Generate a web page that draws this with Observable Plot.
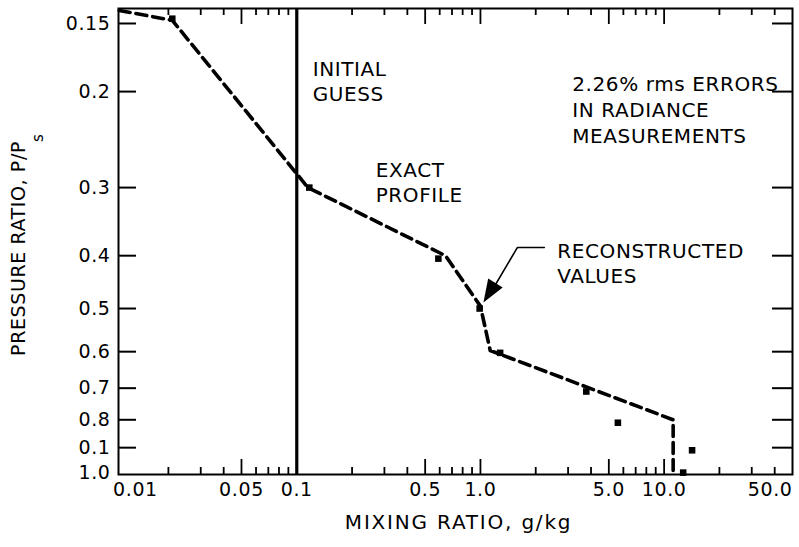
<!DOCTYPE html>
<html>
<head>
<meta charset="utf-8">
<script src="https://cdn.jsdelivr.net/npm/d3@7"></script>
<script src="https://cdn.jsdelivr.net/npm/@observablehq/plot@0.6"></script>
<style>
  html, body { margin: 0; padding: 0; background: #fff; }
  #chart svg text { letter-spacing: 0.6px; }
</style>
</head>
<body>
<div id="chart"></div>
<script>
// Exact water-vapour profile: mixing ratio (g/kg) against pressure ratio P/Ps
const exactMixing   = [0.0108, 0.021, 0.115, 0.645, 1.0,   1.13,  11.2, 11.2];
const exactPressure = [0.142,  0.148, 0.30,  0.40,  0.495, 0.597, 0.80, 1.008];

// Values recovered from radiances with 2.26% rms errors
const reconMixing   = [0.021, 0.117, 0.59,  0.99, 1.28,  3.77, 5.6,  14.2, 12.7];
const reconPressure = [0.147, 0.30,  0.405, 0.50, 0.603, 0.71, 0.81, 0.91, 1.0];

// Constant first guess used by the retrieval
const initialGuess = [0.1];

// Axis ticks and their printed labels
const xTickValues = [0.01, 0.05, 0.1, 0.5, 1, 5, 10, 50];
const xTickLabels = ["0.01", "0.05", "0.1", "0.5", "1.0", "5.0", "10.0", "50.0"];
const xMajorTicks = [0.05, 0.5, 1, 5, 10];
const xMinorTicks = [0.02, 0.03, 0.04, 0.06, 0.07, 0.08, 0.09,
                     0.2, 0.3, 0.4, 0.6, 0.7, 0.8, 0.9,
                     2, 3, 4, 6, 7, 8, 9, 20, 30, 40];
const yTickValues = [0.15, 0.2, 0.3, 0.4, 0.5, 0.6, 0.7, 0.8, 0.9, 1.0];
const yTickLabels = ["0.15", "0.2", "0.3", "0.4", "0.5", "0.6", "0.7", "0.8", "0.1", "1.0"];

const exact = exactMixing.map((x, i) => ({x, y: exactPressure[i]}));
const recon = reconMixing.map((x, i) => ({x, y: reconPressure[i]}));
const yTicks = yTickValues.map((v, i) => ({v, label: yTickLabels[i]}));
const xTicks = xTickValues.map((v, i) => ({v, label: xTickLabels[i]}));

const W = 799, H = 547;
const mL = 118, mR = 7, mT = 8, mB = 73;
const frameW = W - mL - mR, frameH = H - mT - mB;
const font = "DejaVu Sans";
const xTitle = "MIXING RATIO, g/kg";

// Filled, slender arrowhead whose tip sits at the symbol origin (points up before rotation)
const arrowHead = {
  draw(context) {
    context.moveTo(0, 0);
    context.lineTo(-8.5, 23);
    context.lineTo(8.5, 23);
    context.closePath();
  }
};

const chart = Plot.plot({
  width: W,
  height: H,
  marginLeft: mL,
  marginRight: mR,
  marginTop: mT,
  marginBottom: mB,
  style: {fontFamily: font, background: "white", color: "black"},
  x: {type: "log", domain: [0.0107, 50], axis: null},
  y: {type: "log", domain: [0.1408, 1.008], reverse: true, axis: null},
  marks: [
    // inward ticks on all four sides
    Plot.ruleX(xMajorTicks, {x: d => d, insetTop: frameH - 15, strokeWidth: 1.8}),
    Plot.ruleX(xMinorTicks, {x: d => d, insetTop: frameH - 7, strokeWidth: 1.8}),
    Plot.ruleX(xMajorTicks, {x: d => d, insetBottom: frameH - 16, strokeWidth: 1.8}),
    Plot.ruleX(xMinorTicks, {x: d => d, insetBottom: frameH - 7, strokeWidth: 1.8}),
    Plot.ruleY(yTickValues.slice(0, -1), {y: d => d, insetRight: frameW - 18, strokeWidth: 2}),
    Plot.ruleY(yTickValues.slice(0, -1), {y: d => d, insetLeft: frameW - 20, strokeWidth: 2}),

    // initial guess: constant mixing ratio
    Plot.ruleX(initialGuess, {x: d => d, strokeWidth: 3.2}),

    // exact profile (dashed)
    Plot.line(exact, {x: "x", y: "y", stroke: "black", strokeWidth: 3.6, strokeDasharray: "11,6"}),

    // reconstructed values
    Plot.dot(recon, {x: "x", y: "y", symbol: "square", r: 3.7, fill: "black"}),

    Plot.frame({strokeWidth: 2}),

    // y tick labels
    Plot.text(yTicks, {y: "v", text: "label", frameAnchor: "left", textAnchor: "end",
      dx: -8, fontSize: 19}),

    // x tick labels
    Plot.text(xTicks.slice(0, 1), {x: "v", text: "label", frameAnchor: "bottom",
      textAnchor: "start", dy: 21, fontSize: 19}),
    Plot.text(xTicks.slice(1, -1), {x: "v", text: "label", frameAnchor: "bottom",
      textAnchor: "middle", dy: 21, fontSize: 19}),
    Plot.text(xTicks.slice(-1), {x: "v", text: "label", frameAnchor: "bottom",
      textAnchor: "end", dy: 21, fontSize: 19}),

    // axis titles
    Plot.text([xTitle], {x: 0.76, frameAnchor: "bottom", dy: 54,
      fontSize: 20, textAnchor: "middle"}),
    Plot.text(["PRESSURE RATIO, P/P"], {y: 0.388, frameAnchor: "left", dx: -100,
      rotate: -90, fontSize: 19, textAnchor: "middle"}),
    Plot.text(["s"], {y: 0.243, frameAnchor: "left", dx: -80,
      rotate: -90, fontSize: 15, textAnchor: "middle"}),

    // annotations
    Plot.text(["INITIAL\nGUESS"], {x: 0.122, y: 0.174, textAnchor: "start",
      lineAnchor: "top", lineHeight: 1.25, fontSize: 20}),
    Plot.text(["EXACT\nPROFILE"], {x: 0.269, y: 0.266, textAnchor: "start",
      lineAnchor: "top", lineHeight: 1.25, fontSize: 20}),
    Plot.text(["2.26% rms ERRORS\nIN RADIANCE\nMEASUREMENTS"], {x: 3.16, y: 0.184,
      textAnchor: "start", lineAnchor: "top", lineHeight: 1.32, fontSize: 20}),
    Plot.text(["RECONSTRUCTED\nVALUES"], {x: 2.62, y: 0.374, textAnchor: "start",
      lineAnchor: "top", lineHeight: 1.25, fontSize: 20}),

    // leader arrow toward the reconstructed point
    Plot.line([{x: 2.227, y: 0.3865}, {x: 1.588, y: 0.3865}, {x: 1.18, y: 0.458}],
      {x: "x", y: "y", stroke: "black", strokeWidth: 1.6}),
    Plot.dot([{x: 1.038, y: 0.4877}], {x: "x", y: "y", symbol: arrowHead, r: 9,
      rotate: 211.5, fill: "black", stroke: "none"})
  ]
});

// the axis title is set a little more widely spaced
d3.select(chart).selectAll("text")
  .filter(function () { return this.textContent === xTitle; })
  .style("letter-spacing", "1.8px");

document.getElementById("chart").appendChild(chart);
</script>
</body>
</html>
